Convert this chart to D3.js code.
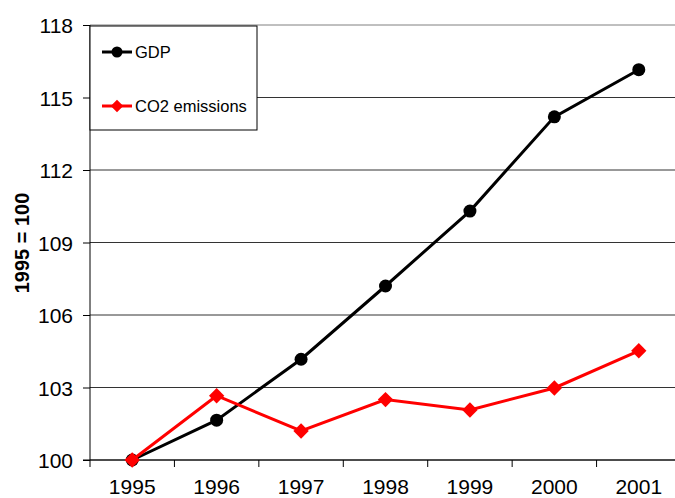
<!DOCTYPE html>
<html>
<head>
<meta charset="utf-8">
<script src="https://cdn.jsdelivr.net/npm/d3@7"></script>
<style>
  body { margin: 0; background: #fff; }
  svg { display: block; font-family: "Liberation Sans", Arial, sans-serif; }
</style>
</head>
<body>
<div id="chart"></div>
<script>
// chart data
const years = ['1995', '1996', '1997', '1998', '1999', '2000', '2001'];
const gdp = [100, 101.65, 104.17, 107.2, 110.3, 114.2, 116.15];
const co2 = [100, 102.66, 101.2, 102.5, 102.07, 102.98, 104.52];
const yTicks = [100, 103, 106, 109, 112, 115, 118];

const width = 675;
const height = 498;
const margin = { top: 25, right: -6, bottom: 38, left: 90 };

const svg = d3.select('#chart').append('svg')
  .attr('width', width)
  .attr('height', height);

const x = d3.scaleBand()
  .domain(years)
  .range([margin.left, width - margin.right]);

const y = d3.scaleLinear()
  .domain([100, 118])
  .range([height - margin.bottom, margin.top]);

// gridlines
svg.append('g')
  .selectAll('line')
  .data(yTicks)
  .enter().append('line')
    .attr('x1', margin.left)
    .attr('x2', width)
    .attr('y1', (d) => y(d))
    .attr('y2', (d) => y(d))
    .style('stroke', (d) => d === 118 ? '#808080' : '#333')
    .style('stroke-width', '1px');

// y axis
const yAxis = d3.axisLeft(y)
  .tickValues(yTicks)
  .tickSize(7)
  .tickPadding(10);

svg.append('g')
  .attr('class', 'y axis')
  .attr('transform', 'translate(' + margin.left + ',0)')
  .call(yAxis)
  .call((g) => g.select('.domain').attr('d', 'M-7,' + y(100) + 'H0V' + y(118)).style('stroke', '#000'))
  .call((g) => g.selectAll('.tick line').style('stroke', '#000'))
  .call((g) => g.selectAll('text')
    .style('font-size', '21px')
    .style('fill', '#000')
    .attr('dy', '0.36em'));

// x axis with ticks between categories
const xAxisG = svg.append('g')
  .attr('class', 'x axis')
  .attr('transform', 'translate(0,' + y(100) + ')');

xAxisG.append('line')
  .attr('x1', margin.left)
  .attr('x2', width)
  .style('stroke', '#000');

xAxisG.selectAll('.sep')
  .data(years)
  .enter().append('line')
    .attr('class', 'sep')
    .attr('x1', (d) => x(d))
    .attr('x2', (d) => x(d))
    .attr('y1', 0)
    .attr('y2', 7)
    .style('stroke', '#000');

xAxisG.selectAll('text')
  .data(years)
  .enter().append('text')
    .attr('x', (d) => x(d) + x.bandwidth() / 2)
    .attr('y', 34)
    .attr('text-anchor', 'middle')
    .style('font-size', '21px')
    .text((d) => d);

// y title
svg.append('text')
  .attr('transform', 'translate(29,243) rotate(-90)')
  .attr('text-anchor', 'middle')
  .style('font-size', '20px')
  .style('font-weight', 'bold')
  .text('1995 = 100');

const cx = (d, i) => x(years[i]) + x.bandwidth() / 2;

const line = d3.line()
  .x((d, i) => cx(d, i))
  .y((d) => y(d));

// GDP line
svg.append('path')
  .attr('d', line(gdp))
  .style('fill', 'none')
  .style('stroke', '#000')
  .style('stroke-width', '3px');

svg.selectAll('.gdp-dot')
  .data(gdp)
  .enter().append('circle')
    .attr('class', 'gdp-dot')
    .attr('r', 6.5)
    .attr('cx', cx)
    .attr('cy', (d) => y(d))
    .style('fill', '#000');

// CO2 line
svg.append('path')
  .attr('d', line(co2))
  .style('fill', 'none')
  .style('stroke', '#ff0000')
  .style('stroke-width', '3px');

const diamond = d3.symbol().type(d3.symbolDiamond2).size(150);

svg.selectAll('.co2-dot')
  .data(co2)
  .enter().append('path')
    .attr('class', 'co2-dot')
    .attr('d', diamond)
    .attr('transform', (d, i) => 'translate(' + cx(d, i) + ',' + y(d) + ')')
    .style('fill', '#ff0000');

// legend
const legend = svg.append('g');

legend.append('rect')
  .attr('x', 90)
  .attr('y', 26)
  .attr('width', 167)
  .attr('height', 104)
  .style('fill', '#fff')
  .style('stroke', '#000')
  .style('stroke-width', '1px');

const legendItems = [
  { name: 'GDP', color: '#000', y: 52, marker: 'circle' },
  { name: 'CO2 emissions', color: '#ff0000', y: 106, marker: 'diamond' }
];

legendItems.forEach((item) => {
  legend.append('line')
    .attr('x1', 102)
    .attr('x2', 132)
    .attr('y1', item.y)
    .attr('y2', item.y)
    .style('stroke', item.color)
    .style('stroke-width', '3px');

  if (item.marker === 'circle') {
    legend.append('circle')
      .attr('cx', 117)
      .attr('cy', item.y)
      .attr('r', 5.5)
      .style('fill', item.color);
  } else {
    legend.append('path')
      .attr('d', d3.symbol().type(d3.symbolDiamond2).size(100))
      .attr('transform', 'translate(117,' + item.y + ')')
      .style('fill', item.color);
  }

  legend.append('text')
    .attr('x', 135)
    .attr('y', item.y + 6)
    .style('font-size', '16.5px')
    .text(item.name);
});
</script>
</body>
</html>
